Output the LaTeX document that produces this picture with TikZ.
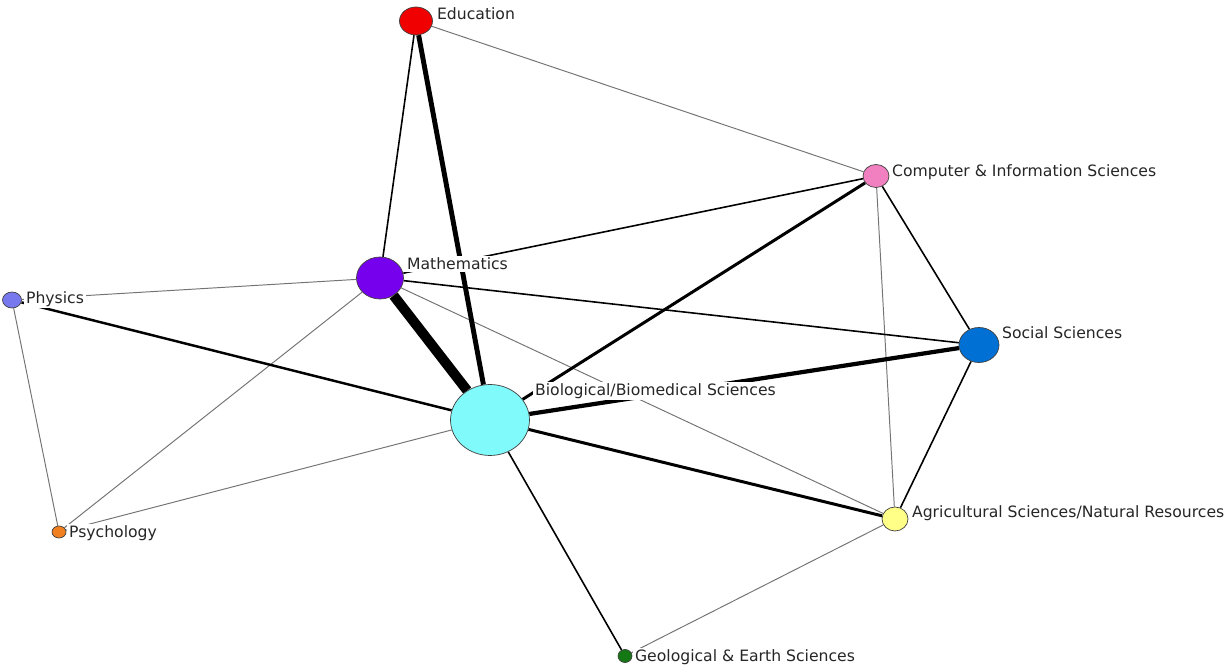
\documentclass[tikz,border=0pt]{standalone}
\usepackage{fontspec}
\setmainfont{DejaVu Sans}
\usetikzlibrary{shapes.geometric, backgrounds}
\definecolor{educolor}{RGB}{240,0,0}
\definecolor{mathcolor}{RGB}{118,0,238}
\definecolor{biocolor}{RGB}{128,250,250}
\definecolor{physcolor}{RGB}{120,120,238}
\definecolor{psychcolor}{RGB}{240,128,32}
\definecolor{compcolor}{RGB}{240,128,192}
\definecolor{soccolor}{RGB}{0,112,212}
\definecolor{agricolor}{RGB}{255,255,136}
\definecolor{geocolor}{RGB}{20,120,20}
\tikzstyle{field} = [ellipse, draw=black!75, line width=0.4pt, inner sep=0pt]
\tikzstyle{tag} = [anchor=west, fill=white, inner sep=1pt, text=black!85, font=\fontsize{8.9}{10.7}\selectfont]
\tikzstyle{weak} = [draw=black!55, line width=0.55pt]
\tikzstyle{link} = [draw=black, line width=0.9pt]

\begin{document}
\begin{tikzpicture}[x=0.02cm, y=-0.02cm]
    \useasboundingbox (0,0) rectangle (1225,671);

    % Fields
    \node[field, fill=educolor, minimum width=0.66cm, minimum height=0.56cm] (edu) at (416, 21) {};
    \node[field, fill=mathcolor, minimum width=0.94cm, minimum height=0.84cm] (math) at (380, 278) {};
    \node[field, fill=biocolor, minimum width=1.58cm, minimum height=1.42cm] (bio) at (490, 420) {};
    \node[field, fill=physcolor, minimum width=0.38cm, minimum height=0.32cm] (phys) at (12, 300) {};
    \node[field, fill=psychcolor, minimum width=0.28cm, minimum height=0.24cm] (psych) at (59, 532) {};
    \node[field, fill=compcolor, minimum width=0.52cm, minimum height=0.46cm] (comp) at (876, 176) {};
    \node[field, fill=soccolor, minimum width=0.80cm, minimum height=0.70cm] (soc) at (979, 345) {};
    \node[field, fill=agricolor, minimum width=0.52cm, minimum height=0.48cm] (agri) at (895, 519) {};
    \node[field, fill=geocolor, minimum width=0.28cm, minimum height=0.26cm] (geo) at (625, 656) {};

    % Labels
    \node[tag] (edu_tag) at (435, 14) {Education};
    \node[tag] (math_tag) at (405, 264) {Mathematics};
    \node[tag] (bio_tag) at (533, 391) {Biological/Biomedical Sciences};
    \node[tag] (phys_tag) at (24, 299) {Physics};
    \node[tag] (psych_tag) at (67, 533) {Psychology};
    \node[tag] (comp_tag) at (890, 172) {Computer \& Information Sciences};
    \node[tag] (soc_tag) at (1000, 333) {Social Sciences};
    \node[tag] (agri_tag) at (910, 513) {Agricultural Sciences/Natural Resources};
    \node[tag] (geo_tag) at (633, 657) {Geological \& Earth Sciences};

    % Links
    \begin{scope}[on background layer]
        \foreach \a/\b in {edu/comp, comp/agri, math/phys, math/psych, math/agri, phys/psych, psych/bio, agri/geo} {
            \draw[weak] (\a) -- (\b);
        }
        \foreach \a/\b in {edu/math, comp/math, comp/soc, math/soc, soc/agri, bio/geo} {
            \draw[link] (\a) -- (\b);
        }
        \draw[line width=1.4pt] (phys) -- (bio);
        \draw[line width=1.7pt] (comp) -- (bio);
        \draw[line width=1.7pt] (bio) -- (agri);
        \draw[line width=2.4pt] (bio) -- (soc);
        \draw[line width=2.8pt] (edu) -- (bio);
        \draw[line width=5.7pt] (math) -- (bio);
    \end{scope}

\end{tikzpicture}
\end{document}
